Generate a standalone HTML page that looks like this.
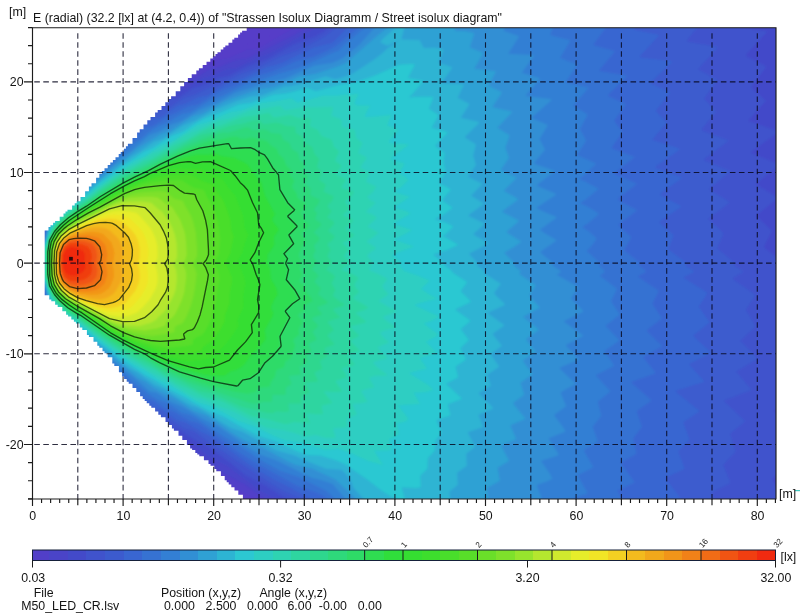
<!DOCTYPE html>
<html><head><meta charset="utf-8"><title>Street isolux diagram</title>
<style>html,body{margin:0;padding:0;background:#fff}body{width:800px;height:613px;position:relative;overflow:hidden;font-family:"Liberation Sans",sans-serif}</style></head>
<body>
<svg width="800" height="613" viewBox="0 0 800 613" style="position:absolute;left:0;top:0;filter:blur(0.45px)">
<defs><clipPath id="rim"><polygon points="44.7,230.5 48.5,230.5 48.5,227.0 50.5,227.0 50.5,225.2 53.1,225.2 53.1,222.8 55.1,222.8 55.1,221.0 59.7,221.0 59.7,216.8 63.5,216.8 63.5,213.4 65.5,213.4 65.5,211.5 67.5,211.5 67.5,209.7 72.1,209.7 72.1,205.5 74.7,205.5 74.7,203.2 76.7,203.2 76.7,201.3 80.5,201.3 80.5,196.9 85.1,196.9 85.1,191.2 88.9,191.2 88.9,186.5 91.5,186.5 91.5,183.3 96.1,183.3 96.1,177.7 99.3,177.7 99.3,173.7 101.9,173.7 101.9,170.9 104.5,170.9 104.5,168.3 107.7,168.3 107.7,165.1 110.3,165.1 110.3,162.5 112.9,162.5 112.9,159.9 115.5,159.9 115.5,157.3 118.7,157.3 118.7,154.1 120.7,154.1 120.7,152.1 123.9,152.1 123.9,148.7 125.9,148.7 125.9,146.2 127.9,146.2 127.9,143.8 132.5,143.8 132.5,138.1 137.1,138.1 137.1,132.5 139.7,132.5 139.7,129.3 143.5,129.3 143.5,124.6 147.3,124.6 147.3,120.3 150.5,120.3 150.5,117.1 155.1,117.1 155.1,112.5 157.7,112.5 157.7,109.9 161.5,109.9 161.5,106.1 165.3,106.1 165.3,102.3 168.5,102.3 168.5,99.1 171.1,99.1 171.1,96.3 175.7,96.3 175.7,91.3 180.3,91.3 180.3,86.2 184.1,86.2 184.1,82.1 187.9,82.1 187.9,78.0 191.7,78.0 191.7,74.3 196.3,74.3 196.3,70.4 198.9,70.4 198.9,68.2 202.7,68.2 202.7,64.9 206.5,64.9 206.5,61.7 210.3,61.7 210.3,58.4 212.9,58.4 212.9,56.2 215.5,56.2 215.5,54.0 217.5,54.0 217.5,52.2 220.7,52.2 220.7,49.5 223.3,49.5 223.3,47.2 225.3,47.2 225.3,45.5 228.5,45.5 228.5,42.7 232.3,42.7 232.3,39.4 234.3,39.4 234.3,37.7 238.1,37.7 238.1,34.4 240.1,34.4 240.1,32.6 242.1,32.6 242.1,30.8 246.7,30.8 246.7,27.7 246.3,27.7 776.0,27.7 776.0,499.0 242.7,499.0 242.9,499.0 242.9,494.7 238.3,494.7 238.3,490.6 234.5,490.6 234.5,487.2 231.3,487.2 231.3,484.4 228.7,484.4 228.7,482.3 226.7,482.3 226.7,480.2 224.7,480.2 224.7,476.1 220.9,476.1 220.9,471.2 216.3,471.2 216.3,469.1 214.3,469.1 214.3,465.8 210.5,465.8 210.5,464.1 208.5,464.1 208.5,460.2 203.9,460.2 203.9,456.3 199.3,456.3 199.3,454.6 197.3,454.6 197.3,452.9 195.3,452.9 195.3,450.1 192.1,450.1 192.1,448.4 190.1,448.4 190.1,445.0 186.9,445.0 186.9,440.0 182.3,440.0 182.3,435.8 178.5,435.8 178.5,430.8 173.9,430.8 173.9,428.6 171.9,428.6 171.9,425.1 168.7,425.1 168.7,421.9 165.5,421.9 165.5,417.3 160.9,417.3 160.9,414.7 158.3,414.7 158.3,411.6 155.1,411.6 155.1,407.8 151.3,407.8 151.3,405.8 149.3,405.8 149.3,403.2 146.7,403.2 146.7,401.1 144.7,401.1 144.7,399.0 142.7,399.0 142.7,396.2 140.1,396.2 140.1,392.1 136.3,392.1 136.3,387.9 132.5,387.9 132.5,383.8 128.7,383.8 128.7,381.7 126.7,381.7 126.7,378.9 124.1,378.9 124.1,376.5 122.1,376.5 122.1,372.2 118.9,372.2 118.9,366.1 114.3,366.1 114.3,363.4 112.3,363.4 112.3,357.3 107.7,357.3 107.7,353.3 104.5,353.3 104.5,351.2 102.5,351.2 102.5,347.8 99.3,347.8 99.3,345.8 97.3,345.8 97.3,341.8 93.5,341.8 93.5,337.0 88.9,337.0 88.9,334.9 86.9,334.9 86.9,330.1 82.3,330.1 82.3,327.4 79.7,327.4 79.7,323.6 75.9,323.6 75.9,321.8 73.9,321.8 73.9,319.5 71.3,319.5 71.3,316.6 68.1,316.6 68.1,314.7 66.1,314.7 66.1,311.3 62.3,311.3 62.3,307.1 57.7,307.1 57.7,304.7 55.1,304.7 55.1,301.3 51.3,301.3 51.3,299.5 49.3,299.5 49.3,295.3 44.7,295.3"/></clipPath></defs>
<defs><filter id="hb" x="-2%" y="-2%" width="104%" height="104%"><feGaussianBlur stdDeviation="0.9"/></filter></defs>
<g clip-path="url(#rim)" shape-rendering="geometricPrecision">
<g filter="url(#hb)"><rect x="30" y="25" width="750" height="478" fill="#563cc8"/>
<path fill="#563cc8" d="M286.3,26.7 288.1,25.7 777.5,25.7 777.5,500.7 243.3,500.7 220.5,486.8 193.5,464.6 183.5,459.6 173.8,451.7 167.5,447.2 159.5,444.7 155.3,441.7 146.5,433.8 136.5,427 123.3,413.7 113.5,396.7 96.2,372.7 86.5,361.1 81.5,356.9 74.5,348.5 70.5,344.9 58.5,329.8 55.5,327.1 50.5,321.2 46.5,316 44.2,311.7 42,305.7 41.2,296.7 41.6,293.7 41.3,286.7 39.3,281.7 38.8,277.7 39.7,268.7 39.8,259.7 38.7,248.7 39.5,244.5 41.6,239.7 41.8,232.7 41.3,229.7 41.8,220.7 42.5,217.6 44.2,213.7 47.5,208.1 51.5,203.1 53.5,201.6 56.5,197.7 58.5,196.2 71.5,179.7 74.5,177.3 82.5,167.5 87.5,162.9 95,154.7 111.5,130.7 122.4,111.7 125.5,109.9 138.5,97.4 147.5,91.3 155.6,83.7 161.5,79.5 166.5,79.9 167.5,79.4 181.5,68.7 182.5,68.4 187.5,69.5 188.5,69.1 200.1,60.7 204.5,58.2 213.5,57 227.5,50.7 238.5,48.2 256.5,39.5 268.5,36.7ZM30.5,263.7 30.5,263.1 32.5,263.7 31.9,266.7 30.5,269Z"/>
<path fill="#513fc8" d="M297.6,26.7 299.7,25.7 777.5,25.7 777.5,500.7 259.8,500.7 242.5,492.3 231.5,485.8 218.5,476.7 202.5,466.6 180.5,447.4 171.5,444.7 160.5,437.7 151.5,432.7 138.5,421.8 131.5,417.6 129.5,416 125.4,411.7 115.6,395.7 97.5,369.1 94.5,365.7 89.5,362 81.5,352.7 77.5,349.3 71.5,342.1 67.5,338.6 62.5,331.5 54.5,323.9 50.5,319.2 45.3,311.7 43,305.7 42.1,300.7 41.8,286.7 39.6,281.7 39.2,279.7 40.2,264.7 40,257.7 39,248.7 39.8,244.7 42,239.7 42.4,233.7 41.9,229.7 42.8,220.7 45.3,213.7 50.5,206.7 63.5,192.9 68.5,186.2 71.5,183.8 77.5,176.4 90.5,162.8 97.5,156.4 111.7,135.7 125.6,113.7 131.5,108.3 139.5,103.3 153.5,90.3 154.5,89.9 159.5,89.9 173.5,79.6 179.5,79.6 180.5,79.1 195.5,68.7 204.5,66.9 218.5,59.8 229.5,57.5 246.5,49.6 256.5,48.8 258.5,47.9 268.5,42.6 283.5,33.5ZM30.5,263.7 30.5,263.1 32.4,263.7 30.5,268.3Z"/>
<path fill="#4a44c8" d="M308.1,26.7 309.8,25.7 777.5,25.7 777.5,500.7 267,500.7 243.5,483.7 225.5,474.5 199.5,455.6 188.5,449 172.5,437.1 170.5,436.3 165.5,435.6 163.5,434.7 151.5,425.6 142.5,420.3 132.5,412.1 128.8,409.7 119.5,395.7 98.5,367.9 90.5,358.6 85.5,355.1 78.5,346.9 73.5,342.1 68.5,336.2 65.5,333.7 60.5,326.9 58.5,325.5 53.5,320.4 46.9,311.7 44.6,306.7 42.7,299.7 42.2,286.7 39.5,279.7 40.6,263.7 39.3,248.7 40.2,244.7 42.4,239.7 42.9,225.7 43.5,221.5 45.8,215.7 53.5,205.2 61.5,197.8 65.5,192.2 69.5,188.7 86.4,169.7 92.5,164.4 98.6,157.7 109.5,142.6 120.3,128.7 128.2,116.7 132.5,113.8 145.5,101.7 149.5,102.4 150.5,102.1 165.5,89.5 172.5,88.8 186.5,79.5 194.5,78.4 210.5,68.3 220.5,66.6 236.5,59.5 245.5,58.6 247.5,57.9 290.5,36.7ZM30.5,263.7 30.5,263.2 32.3,263.7 30.5,267.7Z"/>
<path fill="#434ac9" d="M318.7,26.7 320.7,25.7 777.5,25.7 777.5,500.7 280.8,500.7 261.5,491.9 226.5,465.7 209.5,457.2 187.5,439.9 178.5,436.8 169.1,430.7 163.5,426.4 155.5,423.5 143.5,414.8 135.5,410.3 131.5,407 121.3,392.7 103.5,369.9 100.7,366.7 95.5,362.1 85.5,351 82.5,349.5 75.5,341.3 71.5,337.7 59.5,324.1 55.5,320.3 47.5,310.7 44.8,304.7 43.3,298.7 42.5,285.7 40.4,281.7 39.8,278.7 40.9,263.7 39.7,248.7 40.5,244.7 42.6,240.7 43.3,227.7 44.2,222.7 47.1,215.7 49.5,213.1 52.5,208.6 59.5,201.9 82.5,176.4 88.5,171 96.5,162.5 101.5,158.3 119.1,135.7 131.1,118.7 137.5,112.9 138.5,112.3 142.5,112.7 157.5,100.6 165.5,97.7 178.5,89.5 185.5,88.9 202.5,77.7 211.5,75.4 227.5,68.7 236.5,67.7 238.5,66.8 256.5,57.9 267.5,53.7 274.5,50.4 306.5,32.5ZM30.5,263.7 30.5,263.2 32.2,263.7 30.5,266.9Z"/>
<path fill="#4053cc" d="M329.6,26.7 330.8,25.7 731.5,25.7 766.5,31.2 767.2,31.7 746,54.7 745.9,55.7 763.5,64.7 766.5,66.7 751.4,86.7 751.3,87.7 766,100.7 748,120.7 777.5,130.9 777.5,132.8 750.3,152.7 777.5,163.4 777.5,167.1 756.1,183.7 757,184.7 777.5,197.3 777.5,198.5 756.1,215.7 771.9,230.7 764,246.7 764.5,247.8 777.5,257.8 777.5,409.2 773.7,410.7 777.5,414.1 777.5,474.5 772.5,478.7 777.5,488.6 777.5,500.7 289.2,500.7 262.5,483.9 251.5,478.5 244.5,474.4 230.5,463.1 207.5,446.5 195.5,440.6 178.5,429.5 170.5,427.5 155.5,416.1 147.5,413.1 134.5,403.9 101.7,364.7 97.5,360.4 91.5,355.5 82.5,345.6 78.5,343.1 72.5,336 68.5,332.5 63.5,326.4 55.5,318.7 48.3,309.7 45.5,304.3 43.8,297.7 42.9,285.7 40.8,281.7 40.1,278.7 41.2,263.7 40,248.7 41,244.7 43,240.7 43.9,228.7 45.4,221.7 48.1,216.7 55.1,207.7 63.5,199.4 79.5,181.9 84.5,177.5 92.5,169.1 97.5,165.6 100.5,162.5 122.5,134.8 134.5,122.1 137.5,120.7 148.5,111.7 157.5,107.7 170.5,98.6 175.5,98.6 177.5,98 193.5,87.8 202.5,85.5 217.5,77.9 228.5,76 246.5,66.8 263.5,60.5 269.5,57.7 292.9,44.7 314.5,36.7 324.5,31ZM30.5,263.7 30.5,263.3 32.1,263.7 30.5,266.3Z"/>
<path fill="#3c5bce" d="M336.5,26.7 337.7,25.7 699,25.7 686.6,40.7 688.5,41.7 717.1,46.7 717.6,47.7 698.5,68.7 699.2,69.7 717.6,79.7 704.2,98.7 716.2,111.7 701.4,129.7 702.7,130.7 727.4,139.7 728.6,140.7 710.5,154.7 703.3,159.7 730.1,170.7 730.5,171.7 714.5,184.7 709,188.7 709.5,189.7 714.5,192.3 729.5,201.7 729.5,202.7 722.1,208.7 708.2,218.7 723.4,232.7 723.4,233.7 717.7,247.7 718.1,248.7 734.7,262.7 734.1,264.7 734.8,265.7 741.6,269.7 743.4,271.7 742.8,272.7 733.6,277.7 732.6,278.7 755.7,294.7 746,309.7 755.3,325.7 755.5,326.7 740.6,340.7 758,358.7 736.5,371.7 751.5,389.7 749.9,390.7 723.8,400.7 744.9,420.7 744.9,421.7 730.3,433.7 735.7,451.7 723.4,464.7 730.5,482.7 729.9,483.7 711.5,492.9 710.9,493.7 715.8,500.7 303.1,500.7 281.5,490.3 269.5,483.1 236.5,461.3 223.5,452.1 217.4,448.7 195.5,432.7 192.5,431.1 183.5,428.4 168.5,418.9 161.5,416.7 147.5,406.5 141.5,404.5 138.5,402.7 108.3,368.7 92.5,353 86.5,347.9 79.5,340.5 75.5,337.9 70.5,332.1 66.5,328.5 62.6,323.7 55.5,316.9 49.5,309.7 45.8,302.7 44.5,297.7 43.3,285.7 41.5,282.5 40.4,278.7 41.5,263.7 40.4,247.7 41.5,244.3 43.4,240.7 44.4,229.7 45.9,222.7 49.5,216.2 54.7,209.7 62.5,202.4 66.5,197.6 87.5,176.3 93.5,171.9 106.5,157.8 116.5,148.6 137.5,124.1 141.5,120.9 149.5,117.5 161.5,109.4 168.5,108.1 176,102.7 184.5,97.5 193.5,95 207.5,88.2 217.5,85.5 238.5,74.6 254.5,68.9 278.5,57.1 298.5,49.8 326.5,35.2ZM30.5,263.7 30.5,263.3 32,263.7 30.5,265.8Z"/>
<path fill="#3966d1" d="M349.5,25.7 636.4,25.7 633.9,28.7 634.1,29.7 658.7,34.7 658.9,35.7 639.5,56.7 640.5,57.4 670.5,60.9 672.5,61.7 650.3,82.7 650.8,83.7 670,91.7 670.4,92.7 655.7,110.7 666.7,122.7 652.3,139.7 680.2,148.7 679.5,149.7 655.4,166.7 655.2,167.7 682.6,177.7 663.5,191.3 659.6,194.7 681,205.7 681.6,206.7 659.4,221.7 659.5,222.7 673.3,234.7 673.6,235.7 668.6,248.7 669,249.7 686.2,262.7 685.4,264.7 685.9,265.7 693.5,270.7 693.9,271.7 693,272.7 684.4,276.7 683.5,277.7 707.7,292.7 698.8,306.7 709.3,321.7 709.4,322.7 693.1,335.7 711.3,352.7 689.9,363.7 689.4,364.7 704.8,381.7 675.8,390.7 675.9,391.7 699.3,410.7 698.9,411.7 684.1,421.7 683.3,422.7 689.5,439 689.3,439.7 678.4,451.7 684.8,468.7 665.7,477.7 665.8,478.7 679,495.7 681,498.7 680.8,499.7 678.9,500.7 313.1,500.7 286.5,485.7 271.5,478.3 258.5,470.8 245.5,462.1 209.5,435.8 201.5,432 185.5,422.5 176.5,420 161.5,409.8 153.5,407.2 143.5,400.1 123.5,381.8 105.5,362.1 96.5,354.7 87.5,345.6 82.5,341.8 76.5,335.5 72.5,332.7 61.5,321.1 57.5,317.5 50.1,308.7 46.5,302.5 44.6,293.7 43.9,286.7 40.7,278.7 41.9,263.7 40.8,247.7 43.8,240.7 44.6,232.7 46.4,223.7 49.7,217.7 57.5,208.5 61.8,204.7 84.5,181.5 89.5,178 99.5,168.1 105.5,163.8 126.5,140.7 140.5,127 153.5,118.8 160.5,117.4 177.5,105.7 185.5,103.5 198.5,97.3 207.5,95.3 223.5,85.8 229.5,82.7 244.3,77.7 265.5,67.5 276.1,64.7 282.5,62.4 313.5,47.6 332.5,42.7ZM30.5,263.7 30.5,263.4 31.9,263.7 30.5,265.4Z"/>
<path fill="#3672d2" d="M359.3,26.7 360.5,25.7 607.2,25.7 593.3,44.7 594.5,45.6 614,50.7 614.7,51.7 598.8,70.7 599.5,71.1 627.6,75.7 608.4,94.7 607.8,95.7 625.2,103.7 625.6,104.7 614.2,120.7 622.1,131.7 622.3,132.7 611.4,147.7 614.5,149.5 634.4,156.7 633.9,157.7 618.5,169.7 614,173.7 637.1,183.7 617.5,198.7 618,199.7 621.5,201.8 636.5,209.7 636.8,210.7 618.1,224.7 631.1,236.7 631.1,237.7 630.1,239.7 624.5,249.7 624.7,250.7 640,262.7 639,264.7 639.4,265.7 645.8,270.7 645.9,271.7 645,272.7 638.9,275.7 638.1,276.7 658.8,290.7 652.4,303.7 661.6,317.7 661.4,318.7 647.3,329.7 646.7,330.7 662,345.7 661.3,346.7 643.8,356.7 643.5,357.7 655.7,372.7 654.3,373.7 632,381.7 631.4,382.7 651,399.7 651.5,400.7 637.1,410.7 636.9,411.7 642,426.7 633.6,437.7 633.3,438.7 636.6,453.7 620.7,462.7 634.3,481.7 634.1,482.7 617.3,490.7 623.4,500.7 328.1,500.7 323.5,496.1 321,494.7 315.5,492.2 297.5,485.9 256.5,463.5 239.5,452.8 200.5,424.5 197.5,423.1 189.5,420.8 182.5,417.1 174.5,412 165.5,408.8 153.5,400.8 146.5,398.8 143.5,396.8 124.5,377.3 112.5,366.7 99.5,354 92.5,348.5 84.5,340.4 80.5,337.8 73.5,330.7 70.5,328.8 64.5,322.3 56.5,315 50.6,307.7 47.5,302.4 45.5,295.4 44.4,286.7 43.5,283.7 42.1,281.7 41.1,278.7 42.2,263.7 41.2,247.7 44.1,240.7 46,228.7 47.4,223.7 50.5,218.4 56.5,210.9 64.4,203.7 80.5,187.5 85.5,184 93.5,175.9 99.5,171.9 114.5,156.7 128.5,144.3 142.8,129.7 146.5,127.3 151.5,126.6 153.5,125.7 167.5,116.3 176.5,112.8 182.5,109.2 189.5,105.9 197.5,104.6 219.5,91.6 226.3,88.7 235.3,85.7 254.5,76.5 271.5,71.7 279.5,68.6 296.5,60.9 313.6,56.7 327.2,50.7 335.5,46.3ZM30.5,263.7 31.8,263.7 30.5,265.1Z"/>
<path fill="#337fd4" d="M366,26.7 367.2,25.7 553.5,25.7 550.3,34.7 550.5,35.2 569.5,40 570.3,40.7 560.2,57.7 561.5,58.6 577.3,64.7 565.8,81.7 567.3,82.7 588.7,87.7 573.1,105.7 586.7,113.7 587.6,114.7 580.2,128.7 580.2,129.7 585.9,139.7 586.1,140.7 579.5,151.2 576.6,154.7 596.3,163.7 583.5,175.7 579.3,178.7 580.5,179.7 584.5,181.2 598.6,188.7 586.5,199 580.7,202.7 581.1,203.7 587.5,206.4 599.2,213.7 588.5,223 582.7,226.7 583,227.7 589.5,231.8 596.8,238.7 590.5,247.2 586.7,250.7 587.2,251.7 590.5,254.2 599.3,262.7 598.6,264.7 599,265.7 604.5,270.7 604.7,271.7 604,272.7 599.8,275.7 617,288.7 611.2,300.7 611.4,301.7 619.8,314.7 605.5,325.7 618.8,339.7 619.1,340.7 604.6,350.7 604.5,351.3 614.3,365.7 596.6,374.7 596.1,375.7 609.9,390.7 610,391.7 597.7,401.7 601.4,415.7 592.6,426.7 597.2,439.7 597.5,440.7 597.1,441.7 584.6,449.7 583.9,450.7 593.1,466.7 592.7,467.7 578.6,474.7 578,475.7 583.4,485.7 587.7,492.7 586.9,493.7 579.5,496.1 572.5,499.1 571.1,499.7 570.8,500.7 336.8,500.7 326.5,491 299.5,477.6 279.5,470.4 263.5,461.8 257.5,458.3 239.5,446 225.5,437.8 194.5,417.2 188.5,414.5 182.5,413 166.5,402.7 157.5,399.8 147.5,393.4 143.5,389.9 132.5,381.8 111.5,361.7 103.5,355.6 92.5,345.4 81.5,335.9 76.5,332.2 71.5,327.2 67.5,324.1 63.5,319.6 56.9,313.7 51.5,307.2 48.1,301.7 46.3,295.7 44.8,286.7 43.9,283.7 41.4,278.7 42.5,263.7 41.6,247.7 44.5,240.7 46.4,229.7 47.8,224.7 51.5,218.7 56.5,212.6 77.5,192.4 81.5,189.6 89.5,181.8 94.5,178.8 103.5,170.1 113.5,161.8 131.5,145 142.5,137.4 147.5,133 158.5,125.7 166.5,122.9 181.5,114.2 190.5,111.9 209.6,100.7 224.5,94.8 245.5,84.5 261.5,79.8 279.5,73.4 297.5,68.5 334.5,51.9 338.5,50.7 344.4,44.7ZM30.5,263.7 31.7,263.7 30.5,264.8Z"/>
<path fill="#318fd4" d="M375.4,26.7 376.5,25.7 505.6,25.7 503.6,30.7 518,35.7 519,36.7 508.3,53.7 532.5,55.1 534.1,55.7 521.9,72.7 538.5,77.7 540.1,78.7 525.5,95.7 550.5,98.9 552,99.7 531.5,117.7 547.3,124.7 547.6,125.7 539.8,138.7 539.9,139.7 545.1,149.7 535.1,161.7 534.3,162.7 534.4,163.7 554.6,170.7 554.4,171.7 539.5,183.1 537.1,185.7 555.9,193.7 556,194.7 536.7,207.7 537.8,208.7 542.5,211 556,216.7 556.6,217.7 540,229.7 544.5,233 555.9,239.7 556.3,240.7 540.6,251.7 540.8,252.7 544.5,256.1 553,262.7 552.3,264.7 552.9,265.7 560.4,270.7 560.8,271.7 560,272.7 556.7,274.7 578.3,286.7 578.3,287.7 571.3,297.7 571.1,298.7 583.1,310.7 583.1,311.7 564.8,320.7 564.1,321.7 583.6,335.7 566.4,344.7 566,345.7 578.4,358.7 578.8,359.7 559.6,367.7 559.9,368.7 575.8,383.7 561.7,391.7 560.6,392.7 566,405.7 565.5,406.7 554.5,414.7 554.4,415.7 560.6,423.7 565.4,430.7 564.5,431.9 549.5,437.9 548.7,438.7 559,454.7 556.5,456.1 541.5,460.7 541.5,461.7 550,473.7 552.3,478.7 547.5,481.2 537.5,484.7 537,485.7 540.8,495.7 541.9,500.7 347.1,500.7 332.5,484.1 323.5,480.8 311.5,477.7 277,460.7 260.5,454.8 248.5,447.7 217.5,426 202.5,418.8 182.5,406.9 170.5,401.7 156.5,392.8 149.5,391.2 131.5,375.8 121.5,368.7 105.5,354 97.5,348.1 88.5,339.5 73.5,327.6 58.3,313.7 52.3,306.7 48.5,300.6 46.5,293.7 45.2,286.7 43.9,282.7 41.9,278.7 42.9,263.7 42.1,247.7 44.7,241.7 47.1,229.7 48.5,225.2 52,219.7 58,212.7 74.5,197.2 79.5,193.3 85.5,187.6 90.5,184.4 99.5,175.7 107.5,169.9 121.5,157.2 131.5,150.5 148.5,135.7 150.5,134.4 158.5,131.7 170.5,124.7 179.5,121.7 199.5,109.7 214.5,103.8 235.5,92.6 251.5,87.7 268.5,81.8 284.5,78.8 314.5,65.5 332.5,62.7 342.5,58.3 359.2,44.7ZM30.5,263.7 31.6,263.7 30.5,264.5Z"/>
<path fill="#2fa1d4" d="M388.8,26.7 390.2,25.7 453.5,25.7 455.5,31 465.5,31.3 473.5,33 474.2,33.7 470,46.7 470.3,47.7 483,52.7 482.4,54.7 474.2,68.7 495.5,71.3 495.8,71.7 488.5,85.7 501,91.7 501.8,92.7 492.4,106.7 493.5,107.4 512.6,111.7 497.3,127.7 508.7,134.7 509.5,135.7 505.3,147.7 509,157.7 500.8,169.7 501.9,170.7 516.7,177.7 503.7,190.7 517.7,198.7 517.8,199.7 501.8,211.7 519.2,220.7 506.6,231.7 507.1,232.7 521.3,241.7 513.5,247.2 504.2,252.7 514.1,262.7 513.7,264.7 514.2,265.7 520.3,270.7 520.6,271.7 520.2,272.7 518.9,273.7 535.2,284.7 535.5,285.7 529.2,295.7 539.1,306.7 539.6,307.7 523.1,316.7 538.9,329.7 526.4,338.7 526.3,339.7 535.7,351.7 522.5,360.7 532.5,373.7 531.9,374.7 520.5,382.7 524.1,394.7 513.3,402.7 513.2,403.7 525.5,418.7 511.5,424.7 510.3,425.7 516.1,438.7 515.5,439.6 502.3,444.7 501,445.7 509.1,460.7 497.6,467.7 499.8,480.7 499.5,481.1 487.2,487.7 488.7,500.7 357.9,500.7 335.5,479.5 312.5,468.7 295.2,464.7 286.8,460.7 262.5,447.7 244.5,440.6 231.5,432.4 217.5,422.5 206.5,415.5 193.5,410.7 173.5,397.8 160.5,391.8 152.5,386.9 145.5,381.8 137.5,377.8 120.5,363.7 111.5,357.2 99.5,346.7 93.5,342.3 83.5,333.1 79.5,330.6 58.5,312.3 52.7,305.7 49,299.7 44.5,282.7 42.4,278.7 43.3,263.7 42.6,247.7 44.6,243.7 48.8,226.7 52.5,220.5 58.5,213.7 81.5,193.1 86.5,189.8 96.6,180.7 112.5,167.8 121.5,161.6 138.5,147.5 161.5,133.8 170.5,130.8 192.5,116.6 202.5,113.5 224.5,101.6 232.5,98.2 258.5,89.5 273.5,86.9 287.5,81.7 298.5,76.7 315.8,73.7 337.5,66.4 345.5,63.2 379.6,33.7ZM30.5,263.7 31.4,263.7 30.5,264.3Z"/>
<path fill="#2db4d3" d="M401.7,26.7 403.5,26.3 404.5,26.7 401.5,39 402.5,39.4 419.5,40 423.7,47.7 424.5,48.1 434.5,47.8 442.5,48.9 443.5,49.7 438.7,62.7 451.5,67 452.2,67.7 441.8,82.7 442.5,83.2 462.5,84.3 463.9,84.7 457.7,97.7 469,103.7 469.2,104.7 460.7,117.7 478.1,121.7 479.3,122.7 465,136.7 465.2,137.7 475,143.7 475.9,144.7 473.2,155.7 476,164.7 468,176.7 482.5,183.7 471.1,195.7 484.1,203.7 469,214.7 468.4,215.7 484.8,223.7 473.7,233.7 473.8,234.7 487.9,242.7 488,243.7 468.9,253.7 477.4,262.7 477.1,264.7 477.7,265.7 484.2,270.7 484.6,271.7 484.2,272.7 485.1,273.7 500.8,283.7 494.3,292.7 494.2,293.7 504.5,303.7 505,304.7 488,312.7 488.5,313.7 503.8,324.7 504,325.7 492.7,333.7 493,334.7 501.9,345.7 491.5,353.7 491,354.7 499.2,366.7 487.4,374.7 490.8,385.7 479.1,392.7 479,393.7 489.5,404 492.8,407.7 493,408.7 478.5,414.7 483,426.7 482.5,427.3 468.5,432.1 467.9,432.7 475.1,446.7 466.2,453.7 466.8,465.7 457.1,472.7 457.8,484.7 449.4,491.7 450.3,500.7 365.2,500.7 353.4,487.7 351.8,482.7 349.6,478.7 345.6,473.7 341.5,469.8 325.9,468.7 305.5,460.5 295.2,455.7 275.5,450 242.5,431.7 231.5,427.9 222.5,422.7 208.5,413.7 197.5,407.6 191.5,405.5 186.5,403 163.5,388.6 154.5,384.8 137.5,372.5 128.5,367.9 113.5,355.5 104.5,349.1 82.5,330.4 76.5,326.3 59.5,311.7 53.5,305 49.9,299.7 46.9,290.7 44.9,282.7 42.9,278.7 43.6,263.7 42.9,250.7 43.2,247.7 45,243.7 49.5,226.9 52.9,221.7 59.5,214.2 78.5,197.5 93.5,186 105.5,175.9 114.5,169.8 129.5,157.5 139.5,151.7 154,141.7 162.5,138.9 182.5,125.8 194.9,120.7 215.5,109.6 236.5,101.1 249.5,96.8 262.5,94.9 284.5,86.7 290.5,86.2 299.5,84.3 324.5,76.7 326.5,76.6 333.5,78.8 336.5,79 343.5,77.1 352.5,73.7 373.9,59.7 381.7,53.7 388.5,47.4 394.7,43.7 396.5,42.1 397.9,41.7 397.5,41.1 387.5,45.7 382.5,43.4 380.3,41.7 383.5,38.2 394.5,28.7ZM398.5,40.5 398.2,40.7 399.4,40.7ZM400.5,39.5 400.1,39.7 400.8,39.7ZM30.5,263.7 31.1,263.7 30.5,264.1Z"/>
<path fill="#2cc8d2" d="M400.2,64.7 410.5,64 414.5,64.2 414.5,65.3 408,77.7 408.5,78.1 422.5,80.6 422.8,81.7 412.5,94.1 409.4,96.7 409.5,97.6 413.5,96.9 428.5,96.7 432.5,97 433.3,97.7 428.9,108.7 438.1,114.7 438.6,115.7 431.5,127.7 447,131.7 447.7,132.7 435,145.7 444.7,152.7 443.6,162.7 445.7,171.7 442.3,177.7 439.2,181.7 439.2,182.7 449.8,188.7 450.8,189.7 442.3,199.7 442.8,200.7 452.6,207.7 443.5,214.7 435.1,218.7 436.2,219.7 444.5,221.9 452.5,226 453.1,226.7 446.3,233.7 443.2,235.7 443.5,236.7 445.5,237.3 458.1,244.7 446.5,250.3 435.1,253.7 433.2,254.7 444.2,262.7 443.9,264.7 450.5,269.7 452.8,272.7 466.6,281.7 466.8,282.7 460.9,290.7 461.1,291.7 471.2,301.7 456.4,308.7 455.3,309.7 470.6,320.7 461.1,328.7 461.1,329.7 468.6,339.7 468.2,340.7 460.8,347.7 460.5,348.5 465.8,358.7 465.6,359.7 455.5,366.7 458.1,376.7 457.4,377.7 446.1,383.7 462.1,398.7 448.5,403.9 447.8,404.7 450.4,414.7 449.5,415.7 437.5,419.8 436.5,420.7 441.9,432.7 435.2,440.7 434.6,450.7 428.1,457.7 427.8,458.7 427.4,468.7 420.2,475.7 420.8,486.7 419.5,487.5 415.5,488 402.5,487.2 401.7,487.7 405,499.7 404.5,500.2 403.5,500.3 394.5,498.5 382.5,491.3 366.2,478.7 344.5,463.9 336.5,460.6 320.5,455.4 307.5,455.1 305.7,454.7 294.5,450.2 276.1,441.7 257.5,435.6 236.5,424.2 223.7,416.7 208.5,410.7 194.5,403.3 185.5,397.8 170.5,389.9 153.9,379.7 144.5,374.7 129.5,364.4 120.5,359 107.5,348.6 99.5,342.9 89.5,334.2 67.5,317.4 60.5,311.3 54.4,304.7 50.3,298.7 45.1,281.7 43.8,279.7 43.4,277.7 44,263.7 43.5,248.7 45.4,243.7 50.1,227.7 54.1,221.7 60.5,214.7 67.5,208.5 75.5,201.7 91.5,190 99.5,182.8 108.5,176.6 122.5,165.6 130.5,160.8 143.8,151.7 152.8,147.7 171.5,135.8 182.5,131.7 194.5,123.7 204.5,118.3 219.5,112.8 238.5,104.5 251.5,102.7 273.5,94.8 285.5,93.6 294.5,91.6 306.5,88.1 308.5,88 314.5,90.7 316.5,91 341.5,84.3 347.5,83.8 356.5,82.1 374.4,75.7 397.5,65.5ZM408.5,97.4 408.2,97.7 408.5,97.9 409.4,97.7Z"/>
<path fill="#2dcec2" d="M355.9,93.7 358.8,93.7 355.3,100.7 354.6,103.7 355.5,104.7 358.5,105.2 370.6,105.7 368.4,108.7 364.6,116.7 365.5,117.1 372.5,116.8 391.5,114.7 387.5,124.8 388.4,125.7 399.1,129.7 388.6,141.7 389.5,142.7 407.5,144.2 408.9,144.7 390.3,158.7 403.5,163 404.7,163.7 399.9,172.7 400.1,173.7 404.5,176.4 408.7,179.7 401.9,186.7 395.6,190.7 396.2,191.7 400.2,193.7 410.1,196.7 395.1,206.7 394.5,207.7 405.9,210.7 409.9,212.7 410.4,213.7 393.4,223.7 411.6,229.7 411,230.7 407.5,232.7 394.1,239.7 412.2,245.7 414,246.7 399.7,251.7 393.1,254.7 392.4,255.7 396.9,258.7 401.6,262.7 400,264.7 399.8,265.7 404.1,270.7 421,276.7 430,280.7 421.2,288.7 428.5,293.7 437.7,298.7 427.5,300.9 414.8,304.7 415.8,305.7 439.8,316.7 431.5,320.9 425.5,322.8 424.2,323.7 438.7,334.7 434.5,337.4 426.1,341.7 436.7,352.7 430.5,355.1 420.6,357.7 420.4,358.7 427.1,368.7 409.7,372.7 410.1,373.7 414.5,376.6 428.5,385 433.5,389.7 426.5,392.1 413.7,392.7 418.9,401.7 419.9,403.7 419.5,404 399.5,405.2 398.4,405.7 408.5,418.7 407.5,420.1 405.5,421.4 396.8,423.7 399.2,433.7 397.5,435.2 389.5,439.1 389.3,439.7 391.5,449.8 387.5,450.6 374.2,450.7 382.9,464.7 382.5,465.1 367.5,460.7 351.5,453.5 338.5,448.7 325.5,449.9 301.5,442.6 290.5,440.9 286.5,440.8 284.5,440.2 272.5,435.5 255.5,426.9 238.5,420.9 223.9,412.7 211.5,406.4 200.5,403.3 195.5,401.1 169.5,384.9 160.5,380.9 144.5,370.5 133.5,364.8 123.5,357.7 112.5,350.7 84.5,328.3 67.5,315.8 58.5,307.8 54.9,303.7 50.7,297.7 43.9,277.7 44.4,263.7 43.8,250.7 44,248.7 50.5,228.7 54.5,222.7 61.1,215.7 74.5,204.4 90.4,192.7 95.5,188.2 114.5,173.7 135.5,159.9 143.5,156.7 161.5,144.8 169.5,142.3 172.5,140.8 197.5,124.7 208.5,121.7 228.5,112.6 241.5,109.9 261.5,102.8 275.5,101 290.5,98.2 292.5,98.7 296.5,102 298.5,102.3 322.5,95.7 337.5,95.8 341.5,94.8 352.5,94.3Z"/>
<path fill="#2ed3b2" d="M279.2,105.7 280.5,105.9 284.3,109.7 285.5,110 301.5,107.5 333.3,106.7 331.2,115.7 340.2,118.7 341.4,119.7 342,126.7 342.5,127 355,129.7 356,137.7 362.3,142.7 362.3,143.7 358.1,152.7 367.2,157.7 363.4,162.7 360.3,167.7 370,172.7 366.1,181.7 376.5,186.7 372.4,192.7 367.4,196.7 369.8,199.7 375.7,202.7 366,211.7 373.5,214.9 377.1,217.7 368.4,225.7 368.1,226.7 378.6,232.7 372.6,237.7 367.3,240.7 366.8,241.7 376,247.7 375.8,248.7 371.2,251.7 367.1,255.7 373.2,262.7 370.7,265.7 369.6,269.7 369.9,270.7 377.5,273.4 387.5,278.7 382.5,285.7 382.6,286.7 384.5,289.7 388.2,293.7 388.1,294.7 378.9,300.7 379.7,301.7 389.5,307.6 396.3,310.7 396.2,311.7 383.1,316.7 383.1,317.7 387.5,321.5 395.7,326.7 395.6,327.7 385.5,330.2 381.3,331.7 380,332.7 381.1,334.7 384.5,338.5 388.6,341.7 388.5,342.4 386.5,343.7 382.5,345 377.7,347.7 381.5,352.3 387.2,357.7 386.3,358.7 379.5,359.9 374,361.7 372.8,362.7 377.5,367.6 387.4,374.7 386.5,375.4 374.5,376.1 369.1,377.7 374,386.7 373.9,387.7 370.5,388.1 361.3,390.7 361.4,391.7 367.6,401.7 361.5,403.2 352.1,403.7 356.7,413.7 356.5,414.7 347.5,417.9 346.8,418.7 347.5,426.7 345.5,427.4 333.5,428.2 333.1,428.7 335.5,437.7 334.5,438.1 325.5,437.8 315.5,435.1 304.5,436.5 294.5,433.1 283.5,430.3 267.5,428 261.5,425.6 233.5,411.5 219.5,406.5 201.5,398.5 197.5,397.7 188.5,393.7 170.5,382.6 163.5,377.7 151.9,372.7 136.5,362.8 126.5,357.6 106.5,343.9 81.5,324.1 77.5,321.8 67.5,314.4 61.5,309.2 55.5,303 51.5,297.4 48,288.7 45.6,279.7 44.5,277.7 44.9,261.7 44.3,250.7 47.9,237.7 51.5,228.5 58.5,219.7 67.5,211.6 78.5,203 90.5,194.6 107.5,181.2 129.5,166.3 136.5,163.6 153.5,152.8 160.5,150.7 184.5,135.6 190.5,132.7 200.5,128.7 218.1,120.7 229.5,118.4 249.5,110.6 252.5,109.9 263.5,108.6Z"/>
<path fill="#2ed5a0" d="M263.7,113.7 268.5,113 269.5,113.2 272.6,116.7 273.5,117.1 277.5,116.9 289.5,115.1 298.2,117.7 309.5,118.2 311,118.7 309.9,123.7 309.8,125.7 310.3,126.7 317.7,129.7 321.5,136 331.5,139.5 333,143.7 333.5,146.6 338.5,150.7 339.1,151.7 335.4,159.7 335.3,160.7 341.6,165.7 338.3,170.7 336.4,174.7 345.3,178.7 345.8,179.7 341.4,187.7 354.4,191.7 350.1,197.7 345.6,200.7 345.1,201.7 346.6,204.7 351.2,206.7 350.7,207.7 343,214.7 342.9,215.7 351.5,218.7 353.4,220.7 344.9,228.7 354.6,234.7 353.9,235.7 348.5,239.7 342.3,242.7 343.8,244.7 348.9,248.7 349.3,249.7 345.7,252.7 344,255.7 344.1,256.7 346.5,258.7 349.6,262.7 341.4,269.7 351.8,273.7 358.9,277.7 354.6,283.7 354.4,284.7 355.1,286.7 359.2,291.7 353.1,297.7 353.5,298.7 367.6,306.7 368.4,307.7 364.5,310.1 355.2,312.7 366.4,321.7 365,322.7 351.5,326 350,326.7 359.6,335.7 350.2,340.7 359.8,350.7 346.8,354.7 355,364.7 342.5,367.9 342,368.7 344.8,372.7 346.7,377.7 335.8,380.7 335.8,381.7 342,390.7 341.5,391.6 339.5,391.8 333.5,391.9 324.5,391.3 323.7,391.7 332.3,402.7 331.5,403.3 321.2,405.7 322.9,412.7 323.1,413.7 322.5,414.3 315.5,414.3 307.5,413.2 306.5,413.2 305.9,413.7 310,422.7 309.5,423.2 293.5,422.1 287.5,423.9 284.5,423.9 265.5,418.8 252.5,416.6 223.5,402.1 218.5,400.3 207.5,397.8 203.5,396.3 199.5,394.5 187.5,387.9 176.5,383.6 154.5,369.6 143.5,364.8 130.5,356.7 119.5,350.6 102.5,338.8 81.5,322.5 67.5,313 59.5,305.8 52,296.7 48.1,287.7 46,278.7 45,276.7 45.4,261.7 44.8,250.7 46,247.7 48.4,237.7 51.8,229.7 56.2,223.7 61.5,218.2 67.5,213 76.5,206.2 89.5,197.4 102.5,186.9 121.5,174 130.5,169.5 143.5,161.5 151.5,158.8 172.5,146 186.5,139.9 200.5,131.7 209.5,127.8 221.5,125.3 240.5,117.7 246.5,116.4 253.5,115.8Z"/>
<path fill="#2ed78e" d="M252.7,120.7 257.5,119.9 259.5,120.4 262.5,123.8 267.5,123.7 276.5,122.4 282.5,124.3 284.5,125.5 295.2,126.7 295.8,132.7 302.2,136.7 305.3,142.7 312.5,147.6 314,151.7 314.3,153.7 319.1,158.7 317.1,166.7 321.4,171.7 319.1,179.7 325.9,184.7 323.6,191.7 332.7,195.7 333.9,196.7 331.4,201.7 328,204.7 328.2,207.7 331.5,210.7 327.4,217.7 332.7,220.7 334,222.7 334.1,223.7 328.1,230.7 335,236.7 331.6,240.7 327.5,243.7 328.7,246.7 330.6,249.7 330.4,250.7 328.8,252.7 327.6,256.7 329.6,258.7 331.7,262.7 326.1,269.7 331,272.7 335.2,276.7 331.7,282.7 332.3,284.7 335.4,289.7 332.6,295.7 339.5,301.2 343.9,303.7 344.3,304.7 342.5,305.9 334,308.7 332.7,309.7 340.7,317.7 337.5,318.3 327.2,321.7 333.8,329.7 328,334.7 327.6,335.7 332.5,341.9 334.6,343.7 333.5,344.7 325.5,347.7 324.5,348.7 327.7,355.7 327.5,356.2 319.9,360.7 322.1,368.7 314.3,372.7 318,380.7 317.5,381.6 304.2,382.7 309.4,391.7 309.3,392.7 301,395.7 301.5,402.9 300.5,403.4 288.5,403.6 289.2,410.7 288.5,411.4 284.5,412 276.5,411.2 272.5,413.2 267.5,413 246.5,408 239.5,405.7 215.5,394.9 209.5,393.1 201.5,391.8 198.5,390.7 179.5,380.6 164.5,373.7 154.1,366.7 146.5,362.5 134.5,356.9 118.5,347.4 103.5,337.3 81.5,320.8 67.8,311.7 59.5,304.4 52.4,295.7 48.5,287.4 47,281.7 46.5,277.8 45.4,275.7 45.9,261.7 45.4,250.7 46.5,248.6 47,244.7 48.5,238.8 52.5,230 56.5,224.8 59.5,221.6 67.5,214.5 78.5,206.4 88.5,199.9 99.5,191.3 116.5,179.7 124,175.7 135.5,168.7 146.5,164.1 160.5,155.9 175.5,148.7 198.5,135.7 201.5,134.4 210.5,132.8 229.5,125.9 236.5,124.4 241.5,123.9Z"/>
<path fill="#2ed97b" d="M244.3,127.7 246.5,127.3 250.1,127.7 251.2,129.7 252.5,130.2 264.5,129.4 268.5,131 270.5,132.9 280.5,133.9 283.3,139.7 289.5,142.9 291.5,148.9 297.9,152.7 299.7,159.7 304.1,163.7 304.6,164.7 302.9,170.7 303.1,171.7 307.8,175.7 308.1,176.7 304.8,183.7 310.7,188.7 310,194.7 310.5,195.4 319.8,199.7 317.9,204.7 314.6,207.7 314.1,209.7 314.1,210.7 317,212.7 315.5,217.7 315.4,219.7 320.4,222.7 321,224.7 319.6,226.7 314.2,231.7 313.8,232.7 319.5,237.7 319.4,238.7 317.7,241.7 314,244.7 314.4,247.7 315.8,250.7 314.1,252.7 312.9,256.7 314.6,258.7 316.9,262.7 312,268.7 312.3,269.7 314.9,271.7 318.6,275.7 314.1,281.7 320.1,287.7 320.6,288.7 318.5,292.9 318.2,294.7 327.4,301.7 327.3,302.7 326,303.7 317.5,307 317.2,307.7 317.7,308.7 321.9,313.7 321.5,314.4 312.5,317.7 311.6,318.7 317.4,324.7 317.8,325.7 317.7,326.7 312.3,331.7 316.5,339.1 316.3,339.7 308.2,343.7 309.1,346.7 311.3,350.7 310.8,351.7 306.1,355.7 306.9,362.7 299.3,366.7 301,373.7 300.5,374.4 299.5,374.7 289.5,375.8 288.9,376.7 291.6,383.7 285.8,387.7 285.6,394.7 272.4,394.7 271.9,400.7 271.2,401.7 261.5,401.7 259.5,403.1 258.5,403.3 253.5,403.4 249.7,402.7 190.5,383.1 164.5,370.4 157.5,366.6 151.5,362.5 120.5,346.1 105.5,336.7 80.5,318.4 68.5,310.9 59.5,303 53.4,295.7 49.2,287.7 46.2,275.7 46.1,251.7 48.7,239.7 53,230.7 54.5,228.8 59.5,222.9 68.5,215.1 78.5,208 87.5,202.3 104.7,189.7 120.5,179.9 129.5,174.9 158.5,160.5 185.5,146 203.5,138.5 217.5,134 223.5,132.6 228.3,132.7Z"/>
<path fill="#2edb67" d="M233.5,136.7 238.3,136.7 239.5,138.2 242.5,138.8 245.5,138.8 250.5,137.5 255.5,138.3 257.5,139.6 262.5,139.7 267.5,141.6 271,145.7 276.5,148.7 279,154.7 283.7,158.7 285.9,164.7 290.5,169.7 290.3,175.7 294.2,180.7 292.2,185.7 292.3,187.7 296.2,192.7 297.7,197.7 298.4,198.7 304.6,202.7 305.6,207.7 302.1,210.7 300.3,213.7 302.7,215.7 303.3,218.7 304.5,221.2 308.7,224.7 307,227.7 300.5,233.7 304.3,238.7 304.8,239.7 305,242.7 302.1,245.7 300.8,248.7 300.3,251.7 298.8,253.7 299.1,256.7 300.3,258.7 301.3,262.7 299.6,268.7 301,270.7 302.2,274.7 299,280.7 300.7,282.7 305.4,286.7 306.3,292.7 312.2,299.7 312.5,300.7 304.5,305.2 303.6,307.7 303.9,310.7 298,314.7 299,316.7 302.5,320.7 302.5,322.7 298.7,328.7 299.1,334.7 294.5,338.2 293.3,339.7 293.5,341.7 295.1,345.7 290.8,357.7 285.1,361.7 284.1,366.7 283.5,367.4 278.5,369.1 276,370.7 274.7,376.7 271,381.7 269.5,386.7 259.5,387.4 256.9,389.7 256.5,391.8 247.5,393.8 234.5,391.8 217.5,387.1 210.5,385.9 184.5,376.9 164.5,367.7 153.5,361.6 147.5,357.6 136.5,352.5 114.5,340.2 101.5,331.9 80.5,316.8 68.5,309.6 59.5,301.7 53.6,294.7 49.3,286.7 48.1,281.7 46.7,271.7 46.9,251.7 49.2,239.7 54.5,230.2 59.5,224.3 68.5,216.4 87.5,204 101.5,193.9 121.4,181.7 137.5,173.4 152.5,166.4 168.3,157.7 185.5,149.6 206.5,141.4 212.5,140 217.5,140.2 230.5,137Z"/>
<path fill="#2fdd51" d="M223.1,144.7 227.5,144.2 228.3,144.7 230.4,148.7 231.5,149.1 249.5,148.3 253.5,149.9 258.5,153.2 264.1,155.7 268.1,161.7 271.4,167.7 277.8,175.7 279.4,190.7 286.5,202.7 293.3,209.7 293.3,210.7 289.5,213.7 286.9,216.7 295.7,225.7 296.2,226.7 288.3,234.7 288.3,235.7 292.6,243.7 282.9,253.7 286.3,258.7 284.7,262.7 284.7,263.7 287.6,269.7 285.4,279.7 293.8,289.7 298.5,298.7 291.3,303.7 284.5,310.7 284.7,311.7 288.6,316.7 288.8,317.7 279.3,335.7 280.3,345.7 279.6,346.7 271.8,355.7 264.5,361.9 257.5,372.3 249.5,378 241.7,379.7 236.5,385.5 212.5,381.1 179.5,371.6 159.5,362.6 150.5,357.7 144.5,353.7 134.5,349.2 111.5,336.3 100.5,329.2 80.5,315.2 67.9,307.7 60.5,301.3 54.5,294.4 49.5,285.7 47.9,274.7 47.8,251.7 49.5,240.5 54.5,231.6 60.5,224.7 68.5,217.8 86.5,206.3 100.5,196.6 122.5,183.4 177.5,156.3 189.5,151.4 199.5,148.4Z"/>
<path fill="#30de3b" d="M212.6,153.7 215.5,153.5 221.5,155.9 234.4,157.7 244.5,162.4 247.8,164.7 255.2,175.7 259.2,179.7 261.5,182.7 265.1,195.7 274.9,213.7 274.9,214.7 272.4,218.7 272.3,219.7 273.8,222.7 278.9,228.7 278.5,230.7 273.9,236.7 274.3,244.7 273.9,245.7 267.8,254.7 267.8,258.7 267.1,260.7 267.4,262.7 270.1,268.7 270.9,278.7 276.3,287.7 277.7,294.7 273.5,300.9 271,307.7 273.2,312.7 273.2,313.7 272.4,316.7 265,329.7 264.8,330.7 265.8,337.7 265.4,339.7 258,348.7 250.6,355.7 245,363.7 242,366.7 236.9,369.7 230.5,371.6 225.5,375.3 223.5,375.9 204.5,374.8 174.5,366.3 154.5,357.5 121.5,340.6 110.5,334.2 80.5,313.5 69.5,306.9 61.5,300.6 55.3,293.7 51.2,286.7 50.4,284.7 48.9,275.7 48.8,250.7 50.5,240.7 55.8,231.7 61.2,225.7 68.5,219.5 98.5,199.7 120.5,186.3 134.5,179.1 147.5,173.3 154.5,169.5 173.5,160.8 182.5,157.7 190.5,155.7 198.5,154.6 207.5,154.7Z"/>
<path fill="#35de31" d="M188,161.7 190.5,161.7 195.5,163.3 202.5,161.9 210.5,161.7 230.5,170.5 235.1,175.7 240.3,182.7 243.7,185.7 247.5,190.1 252.6,202.7 257.5,212.7 258.7,224.7 261.6,228.7 263.6,232.7 259.1,241.7 254.9,252.7 250.3,259.7 252.6,263.7 259.9,284.7 257.5,299.7 258.7,305.7 258.6,312.7 251.4,324.7 252.3,332.7 245.5,341.9 237.5,350 229.5,360.2 213.5,367 205.5,367.5 198.5,368.8 189.5,366.8 168,360.7 134.5,345.7 122.5,339.7 110.5,332.8 81.7,312.7 69.5,305.3 61.5,299.1 55.8,292.7 51.8,285.7 49.7,275.7 49.7,250.7 51.3,241.7 56.2,232.7 63.5,225.2 69.5,220.3 89.5,207 110.5,193.7 124.5,185.8 134.5,180.8 144.5,176.7 149.8,173.7 168.5,165.6 179.5,162.6Z"/>
<path fill="#3dde2d" d="M177.1,168.7 181.5,168.3 187.5,169.3 194.5,168.4 200.5,168.5 210.5,173.7 218.5,176.8 223.1,179.7 228.2,187.7 234.3,194.7 236.3,198.7 243.1,215.7 244.5,227.7 247.9,234.7 244.6,243.7 242.2,252.7 238.1,259.7 239.1,264.7 244.5,278.7 245.4,282.7 243,296.7 243.6,302.7 243.3,307.7 237.6,319.7 237.9,326.7 231.4,336.7 222.5,347.5 217.5,352.1 213.5,354.2 210.5,357 204.5,359.3 189.5,361.2 181.5,359.8 162.5,355.1 146.5,348.8 130.5,341.7 120.5,336.7 108.5,329.6 87.9,315.7 70.5,304.8 62.5,298.9 56.7,292.7 52.7,285.7 50.4,275.7 50,263.7 50.3,250.7 52,241.7 56.5,233.6 64.1,225.7 70.5,220.7 88.5,209 108.5,196.8 130.5,184.8 140.5,180.7 146.5,177.6 161.5,171.8 171.5,169.4Z"/>
<path fill="#49de2b" d="M171.8,174.7 190.5,174.6 203.5,181.7 213,184.7 217.4,192.7 222.6,199.7 224.6,203.7 229.9,218.7 231.2,229.7 233.4,236.7 230,253.7 226.8,259.7 226.2,263.7 226.3,264.7 228.7,269.7 231.7,277.7 231.9,280.7 229.6,293.7 229.2,303.7 225,314.7 224.3,321.7 219.5,330.7 213.1,339.7 211.5,341.3 203,346.7 201.1,350.7 194.5,352.6 181.5,354 172.5,352.9 157.5,349.8 142.5,344.6 130.5,339.6 112.5,330.3 70.5,303.9 62.5,297.9 56.8,291.7 53.3,285.7 52.5,283.5 50.9,274.7 50.5,263.7 50.9,250.7 52.7,241.7 57.2,233.7 64.5,226.2 71.5,221 88.5,210.3 117.5,193.6 128.5,187.9 142.5,181.8 155.5,177.4Z"/>
<path fill="#58de29" d="M163.3,180.7 176.5,180 181.5,180.3 193.7,187.7 203.8,189.7 206.5,196 213.4,207.7 217.8,221.7 218.7,227.7 220.1,238.7 218.9,253.7 214.2,263.7 216.9,268.7 219.4,275.7 219.5,278.7 217.3,290.7 216,300.7 213.1,310.7 212,316.7 208.1,325.7 203.4,333.7 201.5,335.3 196.5,337.3 193.4,339.7 192.8,340.7 192.9,343.7 192.5,344.7 186.5,346.1 172.5,347.3 165.5,346.9 154.5,345.3 138.5,340.6 124.5,335 111.5,328 100.5,320.8 76.5,306.7 64.5,298.8 58.3,292.7 54,285.7 51.6,276.7 51,263.7 51.4,250.7 53.1,242.7 53.8,240.7 58,233.7 64.5,227.1 72.5,221.3 88.5,211.5 125.5,191.3 138.5,185.8 149.5,182.7Z"/>
<path fill="#6adf29" d="M160.2,185.7 168.5,185.1 173.5,185.5 180.3,190.7 184.5,193.2 193.5,194 195.1,194.7 196.8,199.7 202.8,210.7 205.5,219.7 207.4,229.7 208.5,249.7 208.1,255.7 206.4,259.7 203.1,263.7 205.8,267.7 208.4,274.7 207.5,280.7 202.2,306.7 200.1,314.7 197.4,321.7 194.4,327.7 192.4,329.7 187.5,330.9 183.8,333.7 183.7,334.7 184.8,338.7 184.5,339 179.5,340 160.5,341.4 150.5,340.5 145.5,339.6 134.5,336.8 123.5,332.7 110.5,325.8 99.5,318.6 78.1,306.7 65.5,298.8 58.5,291.9 54.2,284.7 52.1,275.7 51.5,263.7 52.1,249.7 54.1,241.7 58.5,234.1 64.5,228.1 67.5,225.7 76.5,219.8 88.5,212.8 124.5,193.7 134.5,189.7 138.5,188.7 144.5,187.4Z"/>
<path fill="#7ee12b" d="M149.5,191.7 159.5,191.2 165.5,191.8 174.6,198.7 182.9,200.7 185.1,205.7 191,215.7 193.2,221.7 195.9,232.7 197.1,249.7 197,255.7 195.4,259.7 192.9,262.7 192.6,263.7 194.7,267.7 196.8,273.7 195.2,286.7 193.6,295.7 191.5,303.6 189,310.7 185.3,318.7 182.8,322.7 181.5,323.7 177.5,325.2 174.5,327.7 174.5,331.9 165.5,334.1 153.5,335.7 144.5,335.2 132.5,333.1 120.5,329 108.5,323 99.5,317.3 77.5,305.2 67,298.7 59.5,291.7 54.6,283.7 52.7,275.7 52.2,263.7 52.6,250.7 54.8,241.7 59.5,234.2 67.5,226.9 76.5,221.2 86.5,215.5 120.5,197.9 131.5,193.9 139.5,192.4Z"/>
<path fill="#97e42d" d="M144.5,196.7 152.5,196.7 158.3,197.7 165.6,203.7 172,206.7 180.1,219.7 183.9,229.7 185,233.7 186,240.7 186.7,254.7 185.3,259.7 182.8,262.7 182.7,263.7 185.4,269.7 186.1,272.7 186.1,278.7 184.2,292.7 181.6,300.7 175.4,313.7 172.5,317.5 168.7,319.7 166.5,321.7 165.8,322.7 165.5,324.8 164.5,325.7 157.5,328.2 144.5,330.6 128.5,328.9 118.5,325.9 113.5,323.9 79.5,305.2 67.5,298 60.5,291.7 55.4,283.7 53.4,275.7 52.8,263.7 53.3,250.7 55.5,242 60.2,234.7 67.5,228.1 78.5,221.4 116.5,201.8 126.5,198.5 130.5,197.6Z"/>
<path fill="#b4e72f" d="M126.8,201.7 141.5,201.5 149.5,202.4 151.5,203 152.4,203.7 157.8,208.7 162,211.7 169.3,221.7 172.3,227.7 174.9,234.7 176.5,242.7 177.1,255.7 176.1,259.7 173.3,263.7 175.7,268.7 176.2,270.7 176.8,276.7 176.5,282.7 175.6,289.7 173.5,295.7 165.9,309.7 163.3,312.7 158.5,316.8 156.5,319.6 150.9,322.7 139.5,325.9 125.5,325.2 111.5,321.3 68.5,297.7 61.5,291.5 59.3,288.7 55.8,282.7 53.9,274.7 53.4,263.7 53.9,250.7 55.9,242.7 61.3,234.7 67.5,229.3 77.5,223.3 111.5,206 122.5,202.5Z"/>
<path fill="#d0ea2e" d="M121.9,205.7 134.5,205.8 145.1,207.7 150.1,212.7 160.1,224.7 163.5,231.1 166.3,237.7 167.7,244.7 168.1,256.7 167.5,259.7 164.6,263.7 166.8,267.7 168.2,275.7 168.2,280.7 167.5,287.2 165.5,292.4 158.1,304.7 151.7,311.7 144.5,317.7 134.5,321.4 122.5,321.7 109.5,318.7 80.5,303.5 68.5,296.8 61.5,290.5 58.2,285.7 56.4,282.7 54.5,274.7 54,262.7 54.6,250.7 56.7,242.7 61.4,235.7 68.5,229.7 78.5,224.1 109.5,208.8Z"/>
<path fill="#e6ed2a" d="M115.3,210.7 118.5,210.4 127.5,210.9 135.5,212.7 137.5,213.7 141.5,217.7 151,228.7 155.3,237.7 157.3,245.7 157.5,256.7 156.9,259.7 154.8,262.7 154.8,263.7 157.1,271.7 157.6,277.7 157.2,283.7 155.7,288.7 149.5,299.7 143.5,306.6 137.5,312.2 128.5,316 118.5,316.7 107.5,314.9 98.5,311 76.5,300.2 68.5,295.6 61.5,289.3 57.2,282.7 55,274.7 54.5,262.7 55.2,250.7 57.1,243.7 61.6,236.7 68.5,230.9 77.5,225.9 106.5,212.7Z"/>
<path fill="#f1e526" d="M106.9,215.7 113.5,214.8 120.5,215.2 129.5,218.1 138.4,226.7 142.6,231.7 146.3,239.7 148.1,247.7 148.1,256.7 147.5,259.7 145.7,262.7 145.7,263.7 145.6,264.7 147.6,270.7 148.2,276.7 147.8,281.7 146.3,286.7 141.5,295.7 131.5,306.9 124.3,310.7 115.5,312.1 110.5,312 105.5,311.1 99.5,309.2 78.5,300.3 69.5,295.2 63.5,290.4 58.5,283.9 57.2,280.7 55.5,273.7 55,262.7 55.5,251.7 57.8,243.7 61.9,237.7 68.5,232 77.5,227.2 88.5,222.1 99.5,217.7Z"/>
<path fill="#f4d022" d="M108.4,218.7 116.5,219.4 122.5,222.1 131,229.7 135.5,235.2 138.3,241.7 139.8,248.7 139.6,256.7 139,259.7 137.2,263.7 139.2,269.7 139.9,276.7 138.5,283.7 135.2,290.7 125.4,302.7 118.5,306.4 111.5,307.8 107.5,308.2 97.5,306.2 78.5,299.2 69.5,294.1 64.5,290.3 61.5,286.9 58.2,281.7 56,273.7 55.6,262.7 56.1,251.7 58.1,244.7 61.5,239.5 64.5,236.2 70.5,231.8 87.5,224 98.5,220.3Z"/>
<path fill="#f3bb1e" d="M99.4,222.7 105.5,222.4 110.5,222.9 112.5,223.4 116.5,225.7 124.6,232.7 128.5,237.3 131.1,243.7 132.4,249.7 132.2,255.7 131.5,259.7 129.6,263.7 131.5,268.4 132.4,274.7 131.5,280.7 128.6,287.7 119.5,299.2 115.5,301.7 112.8,302.7 104.5,304.6 97.5,303.7 86.3,300.7 77.5,297.7 70.4,293.7 64,288.7 59.5,283 56.5,273.7 56.2,262.7 56.7,251.7 59.4,243.7 63.5,238.3 70.5,232.8 79.5,228.8 86.6,225.7 93.5,223.7Z"/>
<path fill="#f2a81b" d="M93,227.7 99.5,227.5 105.5,228.3 110.1,230.7 116.5,236.7 119.6,240.7 121.5,245.7 122.7,251.7 121.8,259.7 120.4,262.7 122.2,272.7 121.9,277.7 120.5,282.7 115.9,290.7 113.5,293.7 107.5,297.4 101.5,299.2 93.5,298.9 85.5,297.4 77.5,295.3 69.5,291.4 64.5,287.5 61.4,283.7 59.5,280.4 57.4,272.7 57,262.7 57.4,252.7 59.6,245.7 61.5,242.5 64.5,238.9 70.5,234.6 84.5,229.5Z"/>
<path fill="#f29519" d="M83.1,232.7 92.5,231.7 99.5,232.7 103.5,234.3 111.5,242.5 113.6,248.7 114.4,253.7 113.6,259.7 112.3,264.7 113.6,269.7 113.9,273.7 113.9,276.7 113,279.7 110,286.7 108.3,288.7 102.5,293 97.5,294.5 90.5,294.8 79.5,293.4 69.5,289.7 65.5,286.6 62.5,283.5 60.4,279.7 58.7,274.7 57.9,263.7 58.4,252.7 60.5,246.3 61.8,243.7 65.5,239.7 69.5,236.6Z"/>
<path fill="#f28118" d="M80.4,235.7 89.5,235.4 98.5,237.8 105.1,244.7 106.1,247.7 107.5,254.7 106.4,260.7 105.2,263.7 106.5,267.7 107.1,271.7 107.4,274.7 106.9,276.7 104.4,283.7 98.5,288.9 94.5,290.2 88.5,291.2 78.5,290.9 69.5,288.1 65.5,284.9 62.5,281.8 59.4,273.7 58.7,263.7 59.2,252.7 62.3,244.7 65.5,241.2 69.5,238.1Z"/>
<path fill="#f16c16" d="M73.7,238.7 78.5,238.1 86.5,238.4 89.5,239.2 94.5,240.8 99.8,246.7 101.7,254.7 100.8,260.7 99.4,262.7 99.3,263.7 100.7,266.7 101.9,272.7 100.5,279.8 94.5,285.7 86.5,288 77.5,288.6 69.5,286.6 63.5,281.4 62.5,279.7 60,271.7 59.5,262.7 60.1,252.7 63.5,244.6 69,239.7Z"/>
<path fill="#f05413" d="M74.8,240.7 77.5,240.5 84.5,241.2 91.5,243.5 95.5,248.4 96,249.7 97.2,255.7 96.3,260.7 95,262.7 96,264.7 97.4,269.7 96.3,276.7 91.5,282 84.5,284.4 76.5,285.2 69.5,283.8 63.6,278.7 60.9,271.7 60.3,262.7 60.8,253.7 63.5,246.5 69.5,241.4Z"/>
<path fill="#f03e11" d="M69.7,243.7 75.5,243.4 82.5,244.5 87.5,246.5 90.8,250.7 91.9,256.7 91.4,259.7 90.2,261.7 91.4,264.7 92.1,268.7 91.2,273.7 87.5,277.8 82.5,279.9 75.5,281.2 69.5,280.4 64.5,276.5 61.9,269.7 61.3,262.7 61.7,254.7 64.5,247.5Z"/>
<path fill="#f02a10" d="M68.6,247.7 70.5,247 74.5,247.3 79.4,248.7 82.5,250.3 84.7,253.7 85.3,257.7 84.9,259.7 84.2,260.7 85.5,264.7 85.2,268.7 82.5,272.4 79.5,274 74.5,275.7 69.5,275.5 66.5,273.6 65.5,272.5 63.5,268.3 62.8,261.7 63.2,254.7 65.5,249.9Z"/>
<path fill="#f02010" d="M68.8,255.7 70.5,255.3 72.9,257.7 73.2,260.7 71.9,262.7 70.5,263.7 69.5,263.7 68.5,263 67.5,260.7 67.5,257.4Z"/></g>
<path d="M227.3,143.7 228.8,143.7 231.5,148.7 240.5,148 250.5,147.7 255.2,149.7 259.5,152.7 264.5,154.8 267.5,158.8 272.6,167.7 278.5,174.7 279.9,189.7 287.7,202.7 294.6,209.7 293.9,210.7 288,215.7 287.9,216.7 296.8,225.7 297,226.7 289,234.7 289.1,235.7 293.6,243.7 283.9,253.7 287.5,258.7 285.8,262.7 285.8,263.7 288.6,269.7 286.3,279.7 294.7,289.7 299.8,298.7 292.5,303.7 285.5,310.7 285.4,311.7 289.8,317.7 280.3,335.7 280,336.7 281.1,345.7 280.8,346.7 272.5,356.2 265,362.7 258.5,372.7 250,378.7 242.5,380.2 237.9,385.7 236.5,386 213.5,381.6 200.5,378.2 179.5,371.8 159.5,362.7 150.5,357.8 144.5,353.8 134.5,349.3 109.5,335.2 80.5,315.3 77.5,313.9 67.8,307.7 59.8,300.7 54.5,294.5 49.5,285.8 47.8,274.7 47.7,271.7 47.8,251.7 49.5,240.4 54.5,231.5 60.4,224.7 68.5,217.7 77.5,211.6 86.5,206.2 100.5,196.5 122.5,183.3 134.5,177.2 148.5,170.7 160.5,164.2 177.5,156.2 190.5,150.9 199.5,148.1Z M188,161.7 190.5,161.7 195.5,163.3 202.5,161.9 210.5,161.7 230.5,170.5 235.1,175.7 240.3,182.7 243.7,185.7 247.5,190.1 252.6,202.7 257.5,212.7 258.7,224.7 261.6,228.7 263.6,232.7 259.1,241.7 254.9,252.7 250.3,259.7 250.5,260.7 252.6,263.7 256.2,274.7 258.4,279.7 259.9,284.7 257.5,299.7 258.7,305.7 258.6,312.7 251.4,324.7 252.3,332.7 245.5,341.9 237.5,350 229.5,360.2 213.5,367 205.5,367.5 198.5,368.8 189.5,366.8 168,360.7 149.5,352.7 134.5,345.7 122.5,339.7 110.5,332.8 81.7,312.7 77.5,310.5 69.5,305.3 61.5,299.1 55.8,292.7 51.8,285.7 49.7,275.7 49.7,250.7 51.3,241.7 56.2,232.7 63.5,225.2 69.5,220.3 89.5,207 110.5,193.7 124.5,185.8 134.5,180.8 144.5,176.7 149.8,173.7 168.5,165.6 179.5,162.6Z M160.2,185.7 168.5,185.1 173.5,185.5 180.3,190.7 184.5,193.2 193.5,194 195.1,194.7 196.8,199.7 202.8,210.7 205.5,219.7 207.4,229.7 208.5,249.7 208.5,254.7 208.1,255.7 206.4,259.7 203.1,263.7 205.8,267.7 208.4,274.7 207.5,280.7 202.2,306.7 200.1,314.7 197.4,321.7 194.4,327.7 192.4,329.7 187.5,330.9 183.8,333.7 183.7,334.7 184.8,338.7 184.5,339 179.5,340 160.5,341.4 150.5,340.5 145.5,339.6 134.5,336.8 123.5,332.7 110.5,325.8 99.5,318.6 78.1,306.7 65.5,298.8 58.5,291.9 54.2,284.7 52.1,275.7 51.5,263.7 52.1,249.7 54.1,241.7 58.5,234.1 64.5,228.1 67.5,225.7 76.5,219.8 88.5,212.8 99.5,207.3 124.5,193.7 134.5,189.7 138.5,188.7 144.5,187.4Z M121.9,205.7 134.5,205.8 145.1,207.7 150.1,212.7 160.1,224.7 163.5,231.1 166.3,237.7 167.7,244.7 168.2,250.7 168.1,256.7 167.5,259.7 164.6,263.7 166.8,267.7 168.2,275.7 168.2,280.7 167.5,287.2 165.5,292.4 160.2,300.7 158.1,304.7 151.7,311.7 144.5,317.7 134.5,321.4 122.5,321.7 109.5,318.7 80.5,303.5 68.5,296.8 61.5,290.5 58.2,285.7 56.4,282.7 54.5,274.7 54,262.7 54.6,250.7 56.7,242.7 61.4,235.7 68.5,229.7 78.5,224.1 109.5,208.8Z M99.4,222.7 105.5,222.4 110.5,222.9 112.5,223.4 116.5,225.7 124.6,232.7 128.5,237.3 131.1,243.7 132.4,249.7 132.2,255.7 131.5,259.7 129.6,263.7 131.5,268.4 132.4,274.7 131.5,280.7 128.6,287.7 119.5,299.2 115.5,301.7 112.8,302.7 104.5,304.6 97.5,303.7 86.3,300.7 77.5,297.7 70.4,293.7 64,288.7 59.5,283 58.5,280.7 56.5,273.7 56.2,262.7 56.7,251.7 59.4,243.7 63.5,238.3 70.5,232.8 79.5,228.8 86.6,225.7 93.5,223.7Z M73.7,238.7 78.5,238.1 86.5,238.4 89.5,239.2 94.5,240.8 99.8,246.7 101.7,254.7 100.8,260.7 99.4,262.7 99.3,263.7 100.7,266.7 102,271.7 101.9,272.7 100.5,279.8 94.5,285.7 86.5,288 77.5,288.6 69.5,286.6 63.5,281.4 62.5,279.7 60.3,273.7 60,271.7 59.5,262.7 60.1,252.7 63.5,244.6 69,239.7Z" fill="none" stroke="#061806" stroke-opacity="0.72" stroke-width="1.35" stroke-linejoin="round"/>
</g>
<rect x="69.1" y="256.9" width="3.7" height="3.7" fill="#2c0c0c"/>
<g stroke="#06061c" stroke-opacity="0.84" stroke-width="1.1" stroke-dasharray="5.6 3.434" fill="none"><line x1="77.80" y1="499.5" x2="77.80" y2="30.5"/><line x1="123.10" y1="499.5" x2="123.10" y2="30.5"/><line x1="168.40" y1="499.5" x2="168.40" y2="30.5"/><line x1="213.70" y1="499.5" x2="213.70" y2="30.5"/><line x1="259.00" y1="499.5" x2="259.00" y2="30.5"/><line x1="304.30" y1="499.5" x2="304.30" y2="30.5"/><line x1="349.60" y1="499.5" x2="349.60" y2="30.5"/><line x1="394.90" y1="499.5" x2="394.90" y2="30.5"/><line x1="440.20" y1="499.5" x2="440.20" y2="30.5"/><line x1="485.50" y1="499.5" x2="485.50" y2="30.5"/><line x1="530.80" y1="499.5" x2="530.80" y2="30.5"/><line x1="576.10" y1="499.5" x2="576.10" y2="30.5"/><line x1="621.40" y1="499.5" x2="621.40" y2="30.5"/><line x1="666.70" y1="499.5" x2="666.70" y2="30.5"/><line x1="712.00" y1="499.5" x2="712.00" y2="30.5"/><line x1="757.30" y1="499.5" x2="757.30" y2="30.5"/><line x1="34.25" y1="444.45" x2="776.0" y2="444.45"/><line x1="34.25" y1="353.80" x2="776.0" y2="353.80"/><line x1="34.25" y1="263.15" x2="776.0" y2="263.15"/><line x1="34.25" y1="172.50" x2="776.0" y2="172.50"/><line x1="34.25" y1="81.85" x2="776.0" y2="81.85"/></g>
<g stroke="#1c1c1c" stroke-width="1.15" fill="none"><path d="M28,27.7 H776.0 V499.0 H28 M32.5,27.7 V499.0"/><path d="M28.0,498.84H32.5M28.0,480.71H32.5M28.0,462.58H32.5M24.0,444.45H32.5M28.0,426.32H32.5M28.0,408.19H32.5M28.0,390.06H32.5M28.0,371.93H32.5M24.0,353.80H32.5M28.0,335.67H32.5M28.0,317.54H32.5M28.0,299.41H32.5M28.0,281.28H32.5M24.0,263.15H32.5M28.0,245.02H32.5M28.0,226.89H32.5M28.0,208.76H32.5M28.0,190.63H32.5M24.0,172.50H32.5M28.0,154.37H32.5M28.0,136.24H32.5M28.0,118.11H32.5M28.0,99.98H32.5M24.0,81.85H32.5M28.0,63.72H32.5M28.0,45.59H32.5M28.0,27.46H32.5M32.50,499.0V506.0M41.56,499.0V503.0M50.62,499.0V503.0M59.68,499.0V503.0M68.74,499.0V503.0M77.80,499.0V505.3M86.86,499.0V503.0M95.92,499.0V503.0M104.98,499.0V503.0M114.04,499.0V503.0M123.10,499.0V506.0M132.16,499.0V503.0M141.22,499.0V503.0M150.28,499.0V503.0M159.34,499.0V503.0M168.40,499.0V505.3M177.46,499.0V503.0M186.52,499.0V503.0M195.58,499.0V503.0M204.64,499.0V503.0M213.70,499.0V506.0M222.76,499.0V503.0M231.82,499.0V503.0M240.88,499.0V503.0M249.94,499.0V503.0M259.00,499.0V505.3M268.06,499.0V503.0M277.12,499.0V503.0M286.18,499.0V503.0M295.24,499.0V503.0M304.30,499.0V506.0M313.36,499.0V503.0M322.42,499.0V503.0M331.48,499.0V503.0M340.54,499.0V503.0M349.60,499.0V505.3M358.66,499.0V503.0M367.72,499.0V503.0M376.78,499.0V503.0M385.84,499.0V503.0M394.90,499.0V506.0M403.96,499.0V503.0M413.02,499.0V503.0M422.08,499.0V503.0M431.14,499.0V503.0M440.20,499.0V505.3M449.26,499.0V503.0M458.32,499.0V503.0M467.38,499.0V503.0M476.44,499.0V503.0M485.50,499.0V506.0M494.56,499.0V503.0M503.62,499.0V503.0M512.68,499.0V503.0M521.74,499.0V503.0M530.80,499.0V505.3M539.86,499.0V503.0M548.92,499.0V503.0M557.98,499.0V503.0M567.04,499.0V503.0M576.10,499.0V506.0M585.16,499.0V503.0M594.22,499.0V503.0M603.28,499.0V503.0M612.34,499.0V503.0M621.40,499.0V505.3M630.46,499.0V503.0M639.52,499.0V503.0M648.58,499.0V503.0M657.64,499.0V503.0M666.70,499.0V506.0M675.76,499.0V503.0M684.82,499.0V503.0M693.88,499.0V503.0M702.94,499.0V503.0M712.00,499.0V505.3M721.06,499.0V503.0M730.12,499.0V503.0M739.18,499.0V503.0M748.24,499.0V503.0M757.30,499.0V506.0M766.36,499.0V503.0M775.42,499.0V503.0"/></g>
<line x1="795" y1="490.6" x2="800" y2="490.6" stroke="#40c8c0" stroke-width="1.2"/>
<g font-family="'Liberation Sans',sans-serif" font-size="12.35" fill="#141414"><text x="9" y="16.2">[m]</text><text x="33" y="21.7" font-size="12.36">E (radial) (32.2 [lx] at (4.2, 0.4)) of "Strassen Isolux Diagramm / Street isolux diagram"</text><text x="23.6" y="86.2" text-anchor="end">20</text><text x="23.6" y="176.9" text-anchor="end">10</text><text x="23.6" y="267.5" text-anchor="end">0</text><text x="23.6" y="358.2" text-anchor="end">-10</text><text x="23.6" y="448.8" text-anchor="end">-20</text><text x="32.8" y="519.8" text-anchor="middle">0</text><text x="123.4" y="519.8" text-anchor="middle">10</text><text x="214.0" y="519.8" text-anchor="middle">20</text><text x="304.6" y="519.8" text-anchor="middle">30</text><text x="395.2" y="519.8" text-anchor="middle">40</text><text x="485.8" y="519.8" text-anchor="middle">50</text><text x="576.4" y="519.8" text-anchor="middle">60</text><text x="667.0" y="519.8" text-anchor="middle">70</text><text x="757.6" y="519.8" text-anchor="middle">80</text><text x="779" y="497.6">[m]</text><text x="21.2" y="582">0.03</text><text x="280.5" y="582" text-anchor="middle">0.32</text><text x="527.5" y="582" text-anchor="middle">3.20</text><text x="791.3" y="581.5" text-anchor="end">32.00</text><text x="780.5" y="560.7">[lx]</text><text x="33.7" y="597">File</text><text x="21.2" y="609.6">M50_LED_CR.lsv</text><text x="161" y="597">Position (x,y,z)</text><text x="259.4" y="597">Angle (x,y,z)</text><text x="164.0" y="609.6">0.000</text><text x="205.6" y="609.6">2.500</text><text x="246.9" y="609.6">0.000</text><text x="287.5" y="609.6">6.00</text><text x="318.8" y="609.6">-0.00</text><text x="357.8" y="609.6">0.00</text></g>
<defs><linearGradient id="cbg" gradientUnits="userSpaceOnUse" x1="32.5" y1="0" x2="775.5" y2="0"><stop offset="0.00000" stop-color="#513fc8"/><stop offset="0.02238" stop-color="#513fc8"/><stop offset="0.02238" stop-color="#4a44c8"/><stop offset="0.04744" stop-color="#4a44c8"/><stop offset="0.04744" stop-color="#434ac9"/><stop offset="0.07251" stop-color="#434ac9"/><stop offset="0.07251" stop-color="#4053cc"/><stop offset="0.09758" stop-color="#4053cc"/><stop offset="0.09758" stop-color="#3c5bce"/><stop offset="0.12264" stop-color="#3c5bce"/><stop offset="0.12264" stop-color="#3966d1"/><stop offset="0.14771" stop-color="#3966d1"/><stop offset="0.14771" stop-color="#3672d2"/><stop offset="0.17278" stop-color="#3672d2"/><stop offset="0.17278" stop-color="#337fd4"/><stop offset="0.19785" stop-color="#337fd4"/><stop offset="0.19785" stop-color="#318fd4"/><stop offset="0.22291" stop-color="#318fd4"/><stop offset="0.22291" stop-color="#2fa1d4"/><stop offset="0.24798" stop-color="#2fa1d4"/><stop offset="0.24798" stop-color="#2db4d3"/><stop offset="0.27305" stop-color="#2db4d3"/><stop offset="0.27305" stop-color="#2cc8d2"/><stop offset="0.29812" stop-color="#2cc8d2"/><stop offset="0.29812" stop-color="#2dcec2"/><stop offset="0.32318" stop-color="#2dcec2"/><stop offset="0.32318" stop-color="#2ed3b2"/><stop offset="0.34825" stop-color="#2ed3b2"/><stop offset="0.34825" stop-color="#2ed5a0"/><stop offset="0.37332" stop-color="#2ed5a0"/><stop offset="0.37332" stop-color="#2ed78e"/><stop offset="0.39838" stop-color="#2ed78e"/><stop offset="0.39838" stop-color="#2ed97b"/><stop offset="0.42345" stop-color="#2ed97b"/><stop offset="0.42345" stop-color="#2edb67"/><stop offset="0.44852" stop-color="#2edb67"/><stop offset="0.44852" stop-color="#2fdd51"/><stop offset="0.47359" stop-color="#2fdd51"/><stop offset="0.47359" stop-color="#30de3b"/><stop offset="0.49865" stop-color="#30de3b"/><stop offset="0.49865" stop-color="#35de31"/><stop offset="0.52372" stop-color="#35de31"/><stop offset="0.52372" stop-color="#3dde2d"/><stop offset="0.54879" stop-color="#3dde2d"/><stop offset="0.54879" stop-color="#49de2b"/><stop offset="0.57386" stop-color="#49de2b"/><stop offset="0.57386" stop-color="#58de29"/><stop offset="0.59892" stop-color="#58de29"/><stop offset="0.59892" stop-color="#6adf29"/><stop offset="0.62399" stop-color="#6adf29"/><stop offset="0.62399" stop-color="#7ee12b"/><stop offset="0.64906" stop-color="#7ee12b"/><stop offset="0.64906" stop-color="#97e42d"/><stop offset="0.67413" stop-color="#97e42d"/><stop offset="0.67413" stop-color="#b4e72f"/><stop offset="0.69919" stop-color="#b4e72f"/><stop offset="0.69919" stop-color="#d0ea2e"/><stop offset="0.72426" stop-color="#d0ea2e"/><stop offset="0.72426" stop-color="#e6ed2a"/><stop offset="0.74933" stop-color="#e6ed2a"/><stop offset="0.74933" stop-color="#f1e526"/><stop offset="0.77439" stop-color="#f1e526"/><stop offset="0.77439" stop-color="#f4d022"/><stop offset="0.79946" stop-color="#f4d022"/><stop offset="0.79946" stop-color="#f3bb1e"/><stop offset="0.82453" stop-color="#f3bb1e"/><stop offset="0.82453" stop-color="#f2a81b"/><stop offset="0.84960" stop-color="#f2a81b"/><stop offset="0.84960" stop-color="#f29519"/><stop offset="0.87466" stop-color="#f29519"/><stop offset="0.87466" stop-color="#f28118"/><stop offset="0.89973" stop-color="#f28118"/><stop offset="0.89973" stop-color="#f16c16"/><stop offset="0.92480" stop-color="#f16c16"/><stop offset="0.92480" stop-color="#f05413"/><stop offset="0.94987" stop-color="#f05413"/><stop offset="0.94987" stop-color="#f03e11"/><stop offset="0.97493" stop-color="#f03e11"/><stop offset="0.97493" stop-color="#f02a10"/><stop offset="1.00000" stop-color="#f02a10"/></linearGradient></defs>
<rect x="32.5" y="550.0" width="743.0" height="10.5" fill="url(#cbg)"/>
<rect x="32.5" y="550.0" width="743.0" height="10.5" fill="none" stroke="#15203a" stroke-width="1"/>
<path d="M701.00,550.0V560.5M626.50,550.0V560.5M552.00,550.0V560.5M477.50,550.0V560.5M403.00,550.0V560.5M364.66,550.0V560.5M32.50,560.5V567.5M280.60,560.5V567.5M527.50,560.5V567.5M775.50,560.5V567.5" stroke="#1a1a1a" stroke-width="1" fill="none"/>
<text transform="translate(777.0,548.3) rotate(-48)" font-family="'Liberation Sans',sans-serif" font-size="8.2" fill="#222">32</text>
<text transform="translate(702.5,548.3) rotate(-48)" font-family="'Liberation Sans',sans-serif" font-size="8.2" fill="#222">16</text>
<text transform="translate(628.0,548.3) rotate(-48)" font-family="'Liberation Sans',sans-serif" font-size="8.2" fill="#222">8</text>
<text transform="translate(553.5,548.3) rotate(-48)" font-family="'Liberation Sans',sans-serif" font-size="8.2" fill="#222">4</text>
<text transform="translate(479.0,548.3) rotate(-48)" font-family="'Liberation Sans',sans-serif" font-size="8.2" fill="#222">2</text>
<text transform="translate(404.5,548.3) rotate(-48)" font-family="'Liberation Sans',sans-serif" font-size="8.2" fill="#222">1</text>
<text transform="translate(366.2,548.3) rotate(-48)" font-family="'Liberation Sans',sans-serif" font-size="8.2" fill="#222">0.7</text>
</svg>
</body></html>
